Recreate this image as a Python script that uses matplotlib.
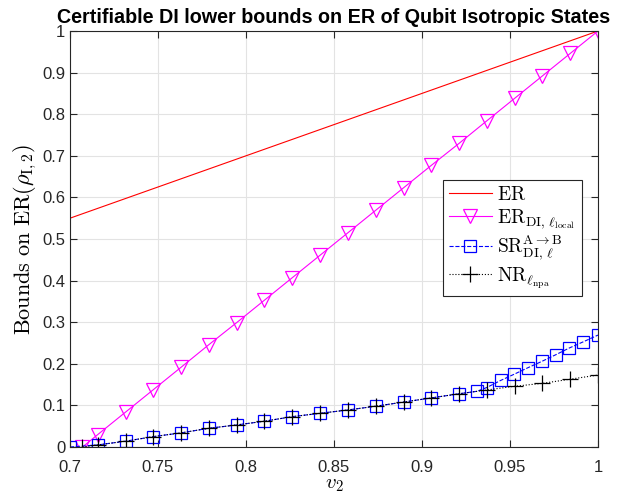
import matplotlib
matplotlib.use('Agg')
import matplotlib.pyplot as plt

plt.rcParams['font.family'] = ['Liberation Sans', 'DejaVu Sans']
plt.rcParams['mathtext.fontset'] = 'cm'

# ER (linha reta)
x_er = [0.7, 1.0]
y_er = [0.55, 1.0]

# ER_DI, l_local
x_di = [0.7071, 0.7158, 0.7316, 0.7474, 0.7632, 0.7789, 0.7947, 0.8105, 0.8263, 0.8421,
        0.8579, 0.8737, 0.8895, 0.9053, 0.9211, 0.9368, 0.9526, 0.9684, 0.9842, 1.0]
y_di = [0.0, 0.030, 0.084, 0.138, 0.192, 0.246, 0.299, 0.353, 0.407, 0.461,
        0.515, 0.569, 0.623, 0.677, 0.730, 0.784, 0.838, 0.892, 0.946, 1.0]

# SR_DI A->B
x_sr = [0.7, 0.7158, 0.7316, 0.7474, 0.7632, 0.7789, 0.7947, 0.8105, 0.8263, 0.8421,
        0.8579, 0.8737, 0.8895, 0.9053, 0.9211, 0.9314, 0.9368, 0.9447, 0.9524, 0.9604,
        0.9682, 0.9761, 0.9837, 0.9917, 1.0]
y_sr = [0.0, 0.005, 0.014, 0.025, 0.034, 0.045, 0.053, 0.062, 0.073, 0.081,
        0.089, 0.098, 0.108, 0.118, 0.128, 0.134, 0.143, 0.160, 0.175, 0.191,
        0.206, 0.222, 0.238, 0.253, 0.269]

# NR l_npa
x_nr = [0.7071, 0.7158, 0.7316, 0.7474, 0.7632, 0.7789, 0.7947, 0.8105, 0.8263, 0.8421,
        0.8579, 0.8737, 0.8895, 0.9053, 0.9211, 0.9368, 0.9526, 0.9684, 0.9842, 1.0]
y_nr = [0.0, 0.005, 0.014, 0.025, 0.034, 0.045, 0.053, 0.062, 0.073, 0.081,
        0.089, 0.098, 0.108, 0.118, 0.128, 0.137, 0.146, 0.153, 0.163, 0.173]

xticks = [0.7, 0.75, 0.8, 0.85, 0.9, 0.95, 1.0]
xlabels = ['0.7', '0.75', '0.8', '0.85', '0.9', '0.95', '1']
yticks = [0, 0.1, 0.2, 0.3, 0.4, 0.5, 0.6, 0.7, 0.8, 0.9, 1.0]
ylabels = ['0', '0.1', '0.2', '0.3', '0.4', '0.5', '0.6', '0.7', '0.8', '0.9', '1']

fig = plt.figure(figsize=(6.21, 4.95), dpi=100)
ax = fig.add_axes([70 / 621, 48 / 495, 528 / 621, 416 / 495])

cinza = '#262626'

ax.plot(x_er, y_er, '-', color='red', lw=0.8, label=r'$\mathrm{ER}$')
ax.plot(x_di, y_di, '-v', color='magenta', lw=0.8, ms=10, mfc='none', mew=0.9,
        label=r'$\mathrm{ER}_{\mathrm{DI},\,\ell_{\mathrm{local}}}$')
ax.plot(x_sr, y_sr, '--s', color='blue', lw=0.8, ms=9, mfc='none', mew=0.9,
        label=r'$\mathrm{SR}^{\mathrm{A}\to\mathrm{B}}_{\mathrm{DI},\,\ell}$')
ax.plot(x_nr, y_nr, ':+', color='black', lw=0.8, ms=12, mew=0.9,
        label=r'$\mathrm{NR}_{\ell_{\mathrm{npa}}}$')

ax.set_xlim(0.7, 1.0)
ax.set_ylim(0, 1.0)
ax.set_xticks(xticks)
ax.set_xticklabels(xlabels)
ax.set_yticks(yticks)
ax.set_yticklabels(ylabels)
ax.tick_params(direction='in', top=True, right=True, labelsize=12, colors=cinza, length=5)
ax.tick_params(axis='x', pad=9)
for s in ax.spines.values():
    s.set_color(cinza)
ax.grid(True, color='#e3e3e3', lw=0.8)
ax.set_axisbelow(True)

ax.set_xlabel(r'$v_2$', fontsize=15, labelpad=0)
ax.set_ylabel(r'$\mathrm{Bounds\ on\ ER}(\rho_{\mathrm{I},2})$', fontsize=16, labelpad=2)
ax.set_title('Certifiable DI lower bounds on ER of Qubit Isotropic States',
             fontsize=14.2, fontweight='bold', pad=6)

leg = ax.legend(loc='upper left', bbox_to_anchor=((443 - 70) / 528, (447 - 180) / 416),
                fontsize=14, fancybox=False, framealpha=1, edgecolor=cinza,
                handlelength=2.2, borderpad=0.3, labelspacing=0.15, handletextpad=0.3,
                borderaxespad=0)
leg.get_frame().set_linewidth(0.8)

fig.savefig('out.png', dpi=100)
